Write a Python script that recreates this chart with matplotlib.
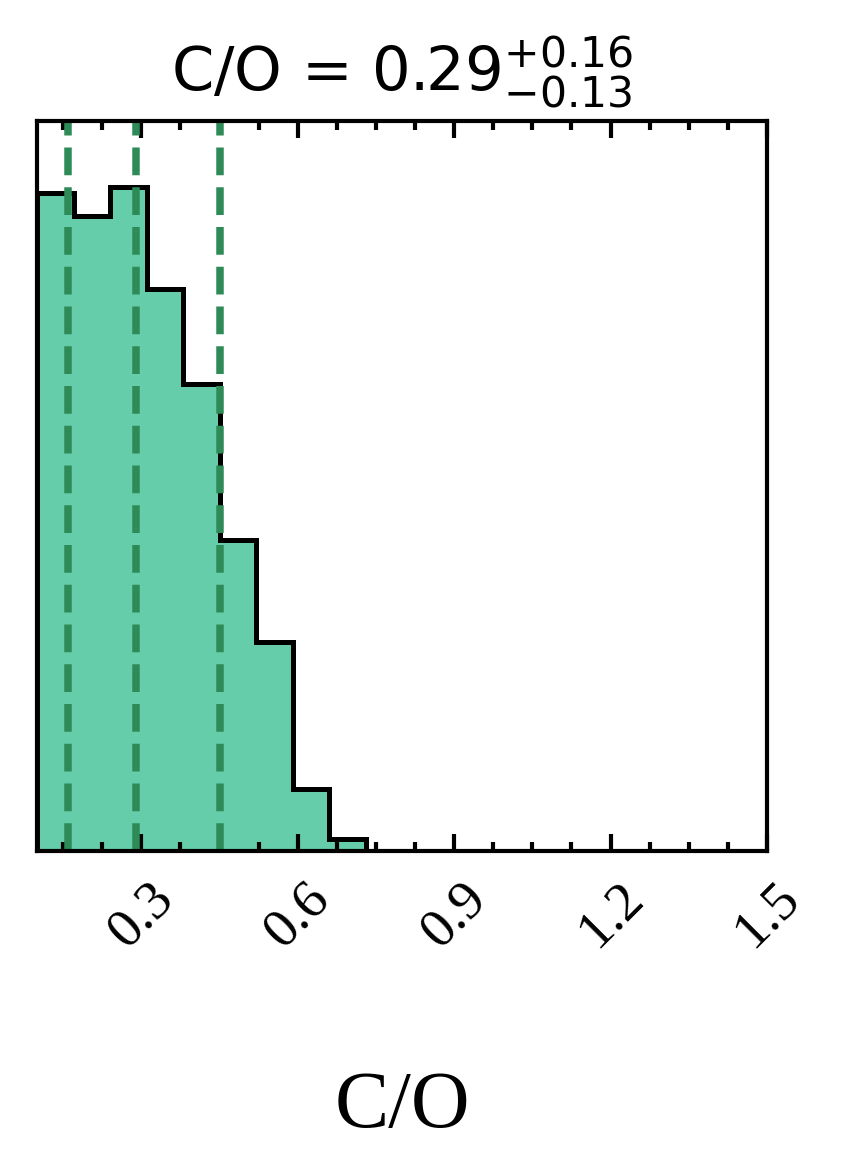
import numpy as np
import matplotlib
matplotlib.use('Agg')
import matplotlib.pyplot as plt
from matplotlib.ticker import MultipleLocator

# histogram of C/O posterior (normalised heights)
bin_edges = np.linspace(0.1, 1.5, 21)
counts    = [0.992, 0.957, 1.000, 0.847, 0.704, 0.469, 0.315, 0.093, 0.018, 0,
             0, 0, 0, 0, 0, 0, 0, 0, 0, 0]
quantiles = [0.16, 0.29, 0.45]
median, err_up, err_lo = 0.29, 0.16, 0.13
xticks = [0.3, 0.6, 0.9, 1.2, 1.5]

fill_col = '#66CDAA'
line_col = '#2E8B57'

fig = plt.figure(figsize=(2.83, 3.9233), dpi=300)
ax = fig.add_axes([0.0436, 0.2761, 0.8598, 0.6202])

ax.stairs(counts, bin_edges, fill=True, color=fill_col, linewidth=0)
ax.stairs(counts, bin_edges, color='k', linewidth=1.2)
for q in quantiles:
    ax.axvline(q, color=line_col, linestyle='--', linewidth=1.8)

ax.set_xlim(0.1, 1.5)
ax.set_ylim(0, 1.1 * max(counts))
ax.set_yticks([])
ax.set_xticks(xticks)
ax.xaxis.set_minor_locator(MultipleLocator(0.075))
ax.tick_params(axis='x', which='both', direction='in', top=True, width=1.0, pad=5)
ax.tick_params(axis='x', which='major', length=4)
ax.tick_params(axis='x', which='minor', length=2.2)
ax.set_xticklabels([str(t) for t in xticks], rotation=45,
                   fontfamily='Liberation Serif', fontsize=13.3)
for s in ax.spines.values():
    s.set_linewidth(1.0)

ax.set_title(r'C/O = $%.2f^{+%.2f}_{-%.2f}$' % (median, err_up, err_lo),
             fontfamily='DejaVu Sans', fontsize=14.6, pad=7.5)
ax.set_xlabel('C/O', fontfamily='Liberation Serif', fontsize=19.5)
ax.xaxis.set_label_coords(0.5, -0.3)

fig.savefig('out.png', dpi=300)
